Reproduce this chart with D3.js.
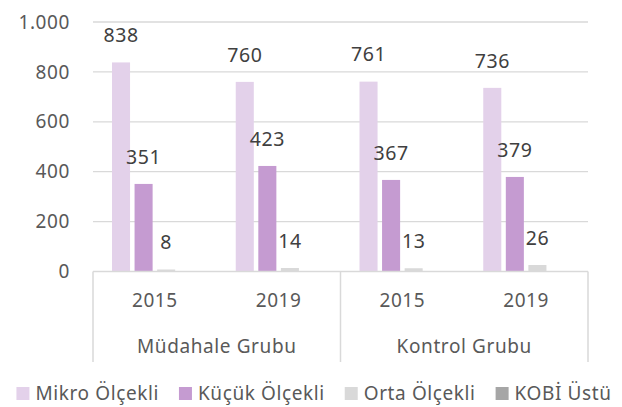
<!DOCTYPE html>
<html>
<head>
<meta charset="utf-8">
<script src="https://cdn.jsdelivr.net/npm/d3@7"></script>
<style>
  body { margin: 0; background: #fff; }
  text { font-family: "Noto Sans", "Open Sans", sans-serif; fill: #595959; letter-spacing: 0.6px; }
</style>
</head>
<body>
<div id="chart"></div>
<script>
// data
const groups = ["Müdahale Grubu", "Kontrol Grubu"];
const years = ["2015", "2019"];
const seriesNames = ["Mikro Ölçekli", "Küçük Ölçekli", "Orta Ölçekli", "KOBİ Üstü"];
const mikro = [838, 760, 761, 736];
const kucuk = [351, 423, 367, 379];
const orta = [8, 14, 13, 26];
const kobiUstu = [0, 0, 0, 0];
const yTicks = [0, 200, 400, 600, 800, 1000];

const colors = ["#e3d1ea", "#c59bd1", "#d9d9d9", "#a6a6a6"];
const seriesValues = [mikro, kucuk, orta, kobiUstu];
const showLabels = [true, true, true, false];

const width = 622, height = 407;
const plot = { left: 93, right: 588, top: 22, bottom: 271.5 };

const categories = [];
groups.forEach(g => years.forEach(y => categories.push(g + "|" + y)));

const trFormat = d3.formatLocale({ decimal: ",", thousands: ".", grouping: [3], currency: ["", "₺"] }).format(",d");

const svg = d3.select("#chart").append("svg")
    .attr("width", width)
    .attr("height", height);

const x0 = d3.scaleBand()
    .domain(categories)
    .range([plot.left, plot.right])
    .padding(0);

const cw = x0.bandwidth();
const x1 = d3.scaleBand()
    .domain(seriesNames)
    .range([cw * 0.1535, cw * 0.8465])
    .paddingInner(0.2)
    .paddingOuter(0);

const y = d3.scaleLinear()
    .domain([0, 1000])
    .range([plot.bottom, plot.top]);

// gridlines
svg.append("g")
    .selectAll("line")
    .data(yTicks.filter(d => d > 0))
    .enter().append("line")
    .attr("x1", plot.left)
    .attr("x2", plot.right)
    .attr("y1", d => y(d))
    .attr("y2", d => y(d))
    .attr("stroke", "#d9d9d9")
    .attr("stroke-width", 1.3);

// y axis labels
svg.append("g")
    .selectAll("text")
    .data(yTicks)
    .enter().append("text")
    .attr("x", 70)
    .attr("y", d => y(d))
    .attr("dy", "0.35em")
    .attr("text-anchor", "end")
    .style("font-size", "19px")
    .text(d => trFormat(d));

// bars
const catG = svg.append("g")
    .selectAll("g")
    .data(categories)
    .enter().append("g")
    .attr("transform", d => `translate(${x0(d)},0)`);

catG.selectAll("rect")
    .data((d, i) => seriesNames.map((s, j) => ({ s, j, v: seriesValues[j][i] })))
    .enter().append("rect")
    .attr("x", d => x1(d.s))
    .attr("width", x1.bandwidth())
    .attr("y", d => y(d.v))
    .attr("height", d => y(0) - y(d.v))
    .attr("fill", d => colors[d.j]);

catG.selectAll("text.lbl")
    .data((d, i) => seriesNames.map((s, j) => ({ s, j, v: seriesValues[j][i] })).filter(d => showLabels[d.j]))
    .enter().append("text")
    .attr("class", "lbl")
    .attr("x", d => x1(d.s) + x1.bandwidth() / 2)
    .attr("y", d => y(d.v) - 27)
    .attr("dy", "0.35em")
    .attr("text-anchor", "middle")
    .style("font-size", "19.5px")
    .style("fill", "#404040")
    .text(d => d.v);

// category axis
const axisCol = "#d9d9d9";
svg.append("line")
    .attr("x1", plot.left).attr("x2", plot.right)
    .attr("y1", plot.bottom).attr("y2", plot.bottom)
    .attr("stroke", axisCol).attr("stroke-width", 1.5);

const groupEdges = [plot.left, x0(groups[1] + "|" + years[0]), plot.right];
svg.append("g")
    .selectAll("line")
    .data(groupEdges)
    .enter().append("line")
    .attr("x1", d => d).attr("x2", d => d)
    .attr("y1", plot.bottom).attr("y2", 362)
    .attr("stroke", axisCol).attr("stroke-width", 1.5);

svg.append("g")
    .selectAll("text")
    .data(categories)
    .enter().append("text")
    .attr("x", d => x0(d) + cw / 2)
    .attr("y", 300)
    .attr("dy", "0.35em")
    .attr("text-anchor", "middle")
    .style("font-size", "19px")
    .text(d => d.split("|")[1]);

svg.append("g")
    .selectAll("text")
    .data(groups)
    .enter().append("text")
    .attr("x", (d, i) => (groupEdges[i] + groupEdges[i + 1]) / 2)
    .attr("y", 346)
    .attr("dy", "0.35em")
    .attr("text-anchor", "middle")
    .style("font-size", "19px")
    .text(d => d);

// legend
const legend = svg.append("g");
const items = legend.selectAll("g")
    .data(seriesNames)
    .enter().append("g");
items.append("rect")
    .attr("width", 13).attr("height", 13)
    .attr("y", 387)
    .attr("fill", (d, i) => colors[i]);
items.append("text")
    .attr("x", 19)
    .attr("y", 393)
    .attr("dy", "0.35em")
    .style("font-size", "19px")
    .text(d => d);

let cx = 0;
const gap = 20;
items.each(function () {
    const g = d3.select(this);
    const w = 19 + g.select("text").node().getComputedTextLength();
    g.attr("transform", `translate(${cx},0)`);
    cx += w + gap;
});
const total = cx - gap;
legend.attr("transform", `translate(${(width - total) / 2 + 3},0)`);
</script>
</body>
</html>
